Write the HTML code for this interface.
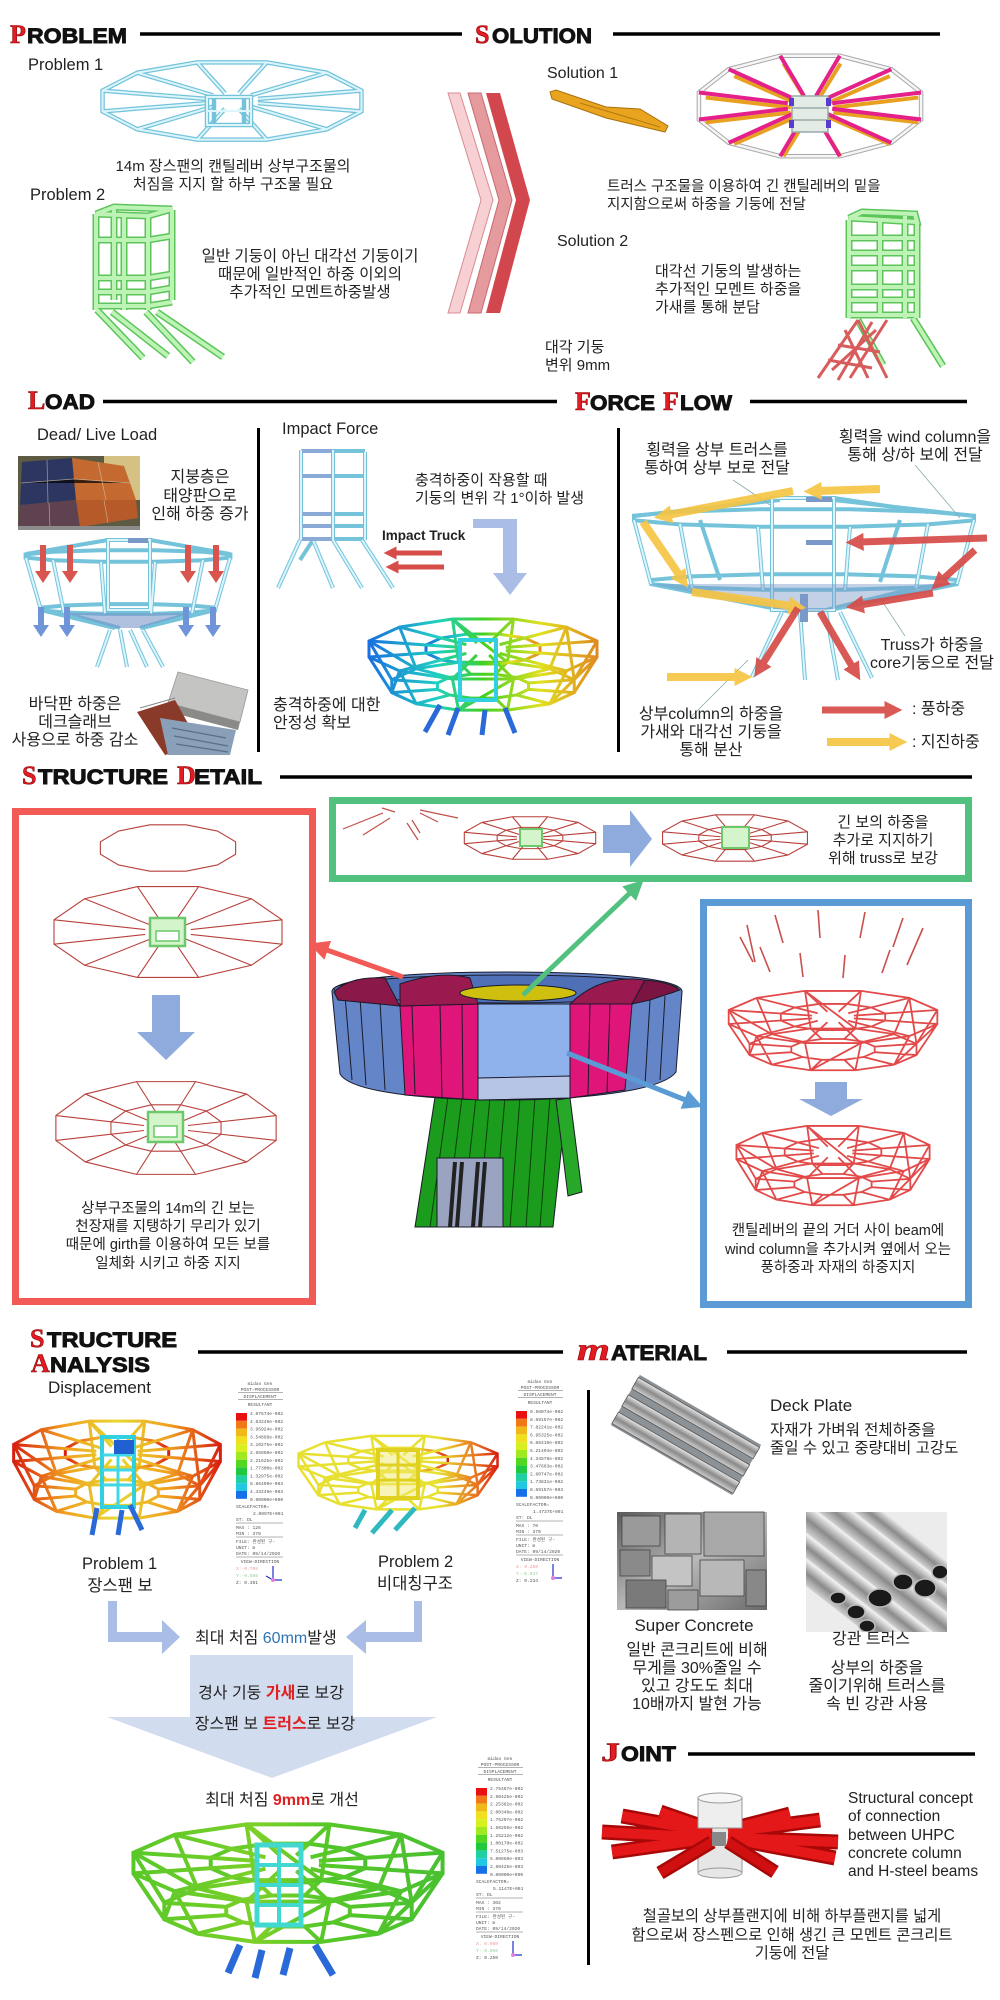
<!DOCTYPE html>
<html><head><meta charset="utf-8">
<style>
html,body{margin:0;padding:0;background:#fff;}
svg{display:block}
text{font-family:"Liberation Sans","Noto Sans CJK KR",sans-serif;fill:#222;}
.k{font-size:15px}
.e{font-size:16.5px}
.t1{font-family:"Liberation Serif",serif;font-weight:bold;font-size:26px;fill:#e31b23;stroke:#8a0000;stroke-width:.6}
.t2{font-family:"Liberation Sans",sans-serif;font-weight:bold;font-size:21px;fill:#111;stroke:#111;stroke-width:.9}
.hl{stroke:#000;stroke-width:3.5}
.cy{stroke:#74c3db;stroke-width:4.5;fill:none}
.cy2{stroke:#dbf5fb;stroke-width:2;fill:none}
.gr{stroke:#5cc45a;stroke-width:7;fill:none}
.gr2{stroke:#bdf4b6;stroke-width:4;fill:none}
.rw{stroke:#b8403c;stroke-width:1.1;fill:none}
.rb{stroke:#e24a4a;stroke-width:1.8;fill:none}
.lg{font-size:4.6px;fill:#555;font-family:"Liberation Mono",monospace}
.lgl{stroke:#666;stroke-width:.5}
</style></head><body>
<svg width="1000" height="2000" viewBox="0 0 1000 2000">
<defs>
<polygon id="r12" fill="none" vector-effect="non-scaling-stroke" points=".966,.259 .707,.707 .259,.966 -.259,.966 -.707,.707 -.966,.259 -.966,-.259 -.707,-.707 -.259,-.966 .259,-.966 .707,-.707 .966,-.259"/>
<polygon id="ri" fill="none" vector-effect="non-scaling-stroke" points=".483,.130 .354,.354 .130,.483 -.130,.483 -.354,.354 -.483,.130 -.483,-.130 -.354,-.354 -.130,-.483 .130,-.483 .354,-.354 .483,-.130"/>
<path id="sp12" fill="none" vector-effect="non-scaling-stroke" d="M.193 .052L.966 .259M.141 .141L.707 .707M.052 .193L.259 .966M-.052 .193L-.259 .966M-.141 .141L-.707 .707M-.193 .052L-.966 .259M-.193 -.052L-.966 -.259M-.141 -.141L-.707 -.707M-.052 -.193L-.259 -.966M.052 -.193L.259 -.966M.141 -.141L.707 -.707M.193 -.052L.966 -.259"/>
<path id="bw" fill="none" vector-effect="non-scaling-stroke" d="M.966 .259L.773 1.407M.707 .707L.566 1.766M.259 .966L.207 1.973M-.259 .966L-.207 1.973M-.707 .707L-.566 1.766M-.966 .259L-.773 1.407M-.966 -.259L-.773 .993M-.707 -.707L-.566 .634M-.259 -.966L-.207 .427M.259 -.966L.207 .427M.707 -.707L.566 .634M.966 -.259L.773 .993M.773 1.407L.566 1.766L.207 1.973L-.207 1.973L-.566 1.766L-.773 1.407L-.773 .993L-.566 .634L-.207 .427L.207 .427L.566 .634L.773 .993ZM.386 1.304L.283 1.483L.104 1.586L-.104 1.586L-.283 1.483L-.386 1.304L-.386 1.096L-.283 .917L-.104 .814L.104 .814L.283 .917L.386 1.096ZM.386 1.304L.773 1.407M.283 1.483L.566 1.766M.104 1.586L.207 1.973M-.104 1.586L-.207 1.973M-.283 1.483L-.566 1.766M-.386 1.304L-.773 1.407M-.386 1.096L-.773 .993M-.283 .917L-.566 .634M-.104 .814L-.207 .427M.104 .814L.207 .427M.283 .917L.566 .634M.386 1.096L.773 .993M.966 .259L.566 1.766M.259 .966L-.207 1.973M-.707 .707L-.773 1.407M-.966 -.259L-.566 .634M-.259 -.966L.207 .427M.707 -.707L.773 .993"/>
<marker id="mY" viewBox="0 0 10 10" refX="2" refY="5" markerUnits="userSpaceOnUse" markerWidth="18" markerHeight="18" orient="auto"><path d="M0,0L10,5L0,10z" fill="#f6c544"/></marker>
<marker id="mR" viewBox="0 0 10 10" refX="2" refY="5" markerUnits="userSpaceOnUse" markerWidth="18" markerHeight="18" orient="auto"><path d="M0,0L10,5L0,10z" fill="#d64c48"/></marker>
<marker id="mR2" viewBox="0 0 10 10" refX="2" refY="5" markerUnits="userSpaceOnUse" markerWidth="13" markerHeight="13" orient="auto"><path d="M0,0L10,5L0,10z" fill="#d64c48"/></marker>
<marker id="mRB" viewBox="0 0 10 10" refX="2" refY="5" markerUnits="userSpaceOnUse" markerWidth="20" markerHeight="20" orient="auto"><path d="M0,0L10,5L0,10z" fill="#f25a56"/></marker>
<marker id="mGB" viewBox="0 0 10 10" refX="2" refY="5" markerUnits="userSpaceOnUse" markerWidth="20" markerHeight="20" orient="auto"><path d="M0,0L10,5L0,10z" fill="#52c07e"/></marker>
<marker id="mBB" viewBox="0 0 10 10" refX="2" refY="5" markerUnits="userSpaceOnUse" markerWidth="20" markerHeight="20" orient="auto"><path d="M0,0L10,5L0,10z" fill="#5b9bd5"/></marker>
<linearGradient id="gImp" x1="0" x2="1" y1="0" y2="0"><stop offset="0" stop-color="#1a70e0"/><stop offset=".3" stop-color="#20d0c0"/><stop offset=".5" stop-color="#40d020"/><stop offset=".75" stop-color="#e0e020"/><stop offset="1" stop-color="#e08a20"/></linearGradient>
<linearGradient id="gA1" x1="0" x2="1" y1="0" y2="0"><stop offset="0" stop-color="#d8200f"/><stop offset=".25" stop-color="#f0a020"/><stop offset=".5" stop-color="#e8d830"/><stop offset=".75" stop-color="#f0a020"/><stop offset="1" stop-color="#d8200f"/></linearGradient>
<linearGradient id="gA2" x1="0" x2="1" y1="0" y2="0"><stop offset="0" stop-color="#e8e030"/><stop offset=".7" stop-color="#e8e030"/><stop offset=".9" stop-color="#e87020"/><stop offset="1" stop-color="#d82010"/></linearGradient>
<linearGradient id="gA3" x1="0" x2="1" y1="0" y2="0"><stop offset="0" stop-color="#58c828"/><stop offset=".4" stop-color="#7cd028"/><stop offset=".6" stop-color="#58c828"/><stop offset="1" stop-color="#48c030"/></linearGradient>
<linearGradient id="gMet" x1="0" x2="0" y1="0" y2="1"><stop offset="0" stop-color="#e8e8e8"/><stop offset=".5" stop-color="#8a8a8a"/><stop offset="1" stop-color="#d0d0d0"/></linearGradient>
<linearGradient id="gCon" x1="0" x2="1" y1="0" y2="1"><stop offset="0" stop-color="#5a5a5a"/><stop offset=".5" stop-color="#b8b8b8"/><stop offset="1" stop-color="#6a6a6a"/></linearGradient>
<clipPath id="cpP"><rect x="806" y="1512" width="141" height="120"/></clipPath>
</defs>

<!-- ============ PROBLEM / SOLUTION ============ -->
<text x="10" y="43" class="t1">P</text><text x="27" y="43" class="t2" textLength="100" lengthAdjust="spacingAndGlyphs">ROBLEM</text>
<line x1="140" y1="34" x2="462" y2="34" class="hl"/>
<text x="475" y="43" class="t1">S</text><text x="492" y="43" class="t2" textLength="100" lengthAdjust="spacingAndGlyphs">OLUTION</text>
<line x1="613" y1="34" x2="940" y2="34" class="hl"/>

<text x="28" y="70" style="font-size:16.5px">Problem 1</text>
<g transform="translate(232,101) scale(134,40)"><use href="#r12" class="cy"/><use href="#sp12" class="cy"/><use href="#r12" class="cy2"/><use href="#sp12" class="cy2"/></g>
<g class="cy"><rect x="207" y="97" width="44" height="28"/><line x1="214" y1="95" x2="214" y2="127"/><line x1="244" y1="95" x2="244" y2="127"/></g>
<g class="cy2"><rect x="207" y="97" width="44" height="28"/><line x1="207" y1="111" x2="251" y2="111"/></g>
<text x="233" y="171" class="k" text-anchor="middle">14m 장스팬의 캔틸레버 상부구조물의</text>
<text x="233" y="189" class="k" text-anchor="middle">처짐을 지지 할 하부 구조물 필요</text>

<text x="30" y="200" style="font-size:16.5px">Problem 2</text>
<g class="gr"><path d="M96,214V310M148,216V310M114,208V300M172,210V300M96,214L114,207L172,209L148,216ZM96,240H148L172,236M96,278H148L172,274M96,292H148L172,288M96,306H148L172,302M124,214V310M97,310L143,358M112,312L168,356M146,312L193,362M157,312L223,357"/></g>
<g class="gr2"><path d="M96,214V310M148,216V310M114,208V300M172,210V300M96,214L114,207L172,209L148,216ZM96,240H148L172,236M96,278H148L172,274M96,292H148L172,288M96,306H148L172,302M124,214V310M97,310L143,358M112,312L168,356M146,312L193,362M157,312L223,357"/></g>
<text x="310" y="261" text-anchor="middle" style="font-size:15.5px">일반 기둥이 아닌 대각선 기둥이기</text>
<text x="310" y="279" text-anchor="middle" style="font-size:15.5px">때문에 일반적인 하중 이외의</text>
<text x="310" y="297" text-anchor="middle" style="font-size:15.5px">추가적인 모멘트하중발생</text>

<!-- chevrons -->
<polygon points="448,93 460,93 493,200 460,313 448,313 481,200" fill="#f6d0d2" stroke="#d98c90" stroke-width="1"/>
<polygon points="468,93 481,93 512,200 481,313 468,313 499,200" fill="#e59a9e" stroke="#c86a70" stroke-width="1"/>
<polygon points="486,93 500,93 530,200 500,313 486,313 516,200" fill="#d2474d"/>

<text x="547" y="78" style="font-size:16px">Solution 1</text>
<polygon points="550,92 556,90 606,107 640,109 668,126 665,132 606,118 552,99" fill="#e8a41e" stroke="#a8700c" stroke-width="1"/>
<line x1="580" y1="103" x2="660" y2="127" stroke="#b67a10" stroke-width="1"/>
<g transform="translate(810,106) scale(115,52)"><use href="#r12" style="stroke:#a8a8a8;stroke-width:4.5"/><use href="#r12" style="stroke:#f6f6f6;stroke-width:2.5"/></g>
<g transform="translate(812,110) scale(110,48)"><use href="#sp12" style="stroke:#e8a020;stroke-width:4"/></g>
<g transform="translate(810,106) scale(115,52)"><use href="#sp12" style="stroke:#e4208a;stroke-width:4"/></g>
<rect x="792" y="96" width="36" height="36" fill="#e2ece4" stroke="#9aa" stroke-width="1.5"/>
<path d="M792,108H828M792,120H828" stroke="#9aa" stroke-width="1.5"/>
<g fill="#5a3bd0"><rect x="789" y="98" width="5" height="8"/><rect x="826" y="98" width="5" height="8"/><rect x="789" y="120" width="5" height="8"/><rect x="826" y="120" width="5" height="8"/></g>
<text x="607" y="191" style="font-size:14.5px">트러스 구조물을 이용하여 긴 캔틸레버의 밑을</text>
<text x="607" y="209" style="font-size:14.5px">지지함으로써 하중을 기둥에 전달</text>

<text x="557" y="246" style="font-size:16px">Solution 2</text>
<text x="655" y="276" class="k">대각선 기둥의 발생하는</text>
<text x="655" y="294" class="k">추가적인 모멘트 하중을</text>
<text x="655" y="312" class="k">가새를  통해 분담</text>
<text x="545" y="352" class="k">대각 기둥</text>
<text x="545" y="370" class="k">변위 9mm</text>
<g class="gr"><path d="M849,220V318M880,218V316M905,216V318M917,222V318M849,218L862,212L915,214L917,222ZM862,212L917,222M849,238H915M849,253H915M849,268H915M849,287H915M849,300H915M849,315H915M858,320L883,365M913,318L943,366"/></g>
<g class="gr2"><path d="M849,220V318M880,218V316M905,216V318M917,222V318M849,218L862,212L915,214L917,222ZM849,238H915M849,253H915M849,268H915M849,287H915M849,300H915M849,315H915M858,320L883,365M913,318L943,366"/></g>
<g stroke="#d85c5c" stroke-width="3" fill="none"><path d="M858,320L818,378M872,322L838,380M887,320L850,378M858,320L887,378M838,345L880,352M828,360L872,368M845,330L868,378M876,330L832,370"/></g>

<!-- ============ LOAD / FORCE FLOW ============ -->
<text x="28" y="409" class="t1">L</text><text x="45" y="409" class="t2" textLength="50" lengthAdjust="spacingAndGlyphs">OAD</text>
<line x1="103" y1="401.5" x2="557" y2="401.5" class="hl"/>
<text x="575" y="410" class="t1">F</text><text x="590" y="410" class="t2" textLength="65" lengthAdjust="spacingAndGlyphs">ORCE</text>
<text x="663" y="410" class="t1">F</text><text x="680" y="410" class="t2" textLength="52" lengthAdjust="spacingAndGlyphs">LOW</text>
<line x1="750" y1="401.5" x2="967" y2="401.5" class="hl"/>

<text x="37" y="440" class="e">Dead/ Live Load</text>
<!-- solar photo -->
<rect x="18" y="456" width="122" height="74" fill="#5d5a44"/>
<rect x="104" y="456" width="36" height="44" fill="#d6c185"/>
<polygon points="22,462 72,458 76,500 20,505" fill="#2c3660"/>
<polygon points="72,458 124,466 136,500 76,500" fill="#c46a30"/>
<polygon points="20,505 76,500 80,527 18,528" fill="#5e4250"/>
<polygon points="76,500 136,500 138,518 80,527" fill="#b55a28"/>
<path d="M47,460L48,503M98,462L106,500M104,500L108,523M49,503L50,528M21,483L74,479L130,483" stroke="#d8c8b0" stroke-width=".7" opacity=".7"/>
<rect x="18" y="526" width="122" height="4" fill="#8c8c8c"/>
<text x="200" y="482" text-anchor="middle" style="font-size:16px">지붕층은</text>
<text x="200" y="501" text-anchor="middle" style="font-size:16px">태양판으로</text>
<text x="200" y="519" text-anchor="middle" style="font-size:16px">인해 하중 증가</text>
<!-- dead load structure -->
<g class="cy" style="stroke-width:4">
<g transform="translate(128,556) scale(106,6)"><use href="#r12"/></g>
<g transform="translate(128,609) scale(90,5)"><use href="#r12"/></g>
<path d="M230,558L215,610M203,560L192,613M155,562L151,614M101,562L105,614M53,560L64,613M26,558L41,610M26,554L108,540M230,554L150,540M41,610L115,628M64,613L120,628M192,613L140,628M215,610L142,628M110,630L97,667M120,630L127,667M130,630L147,667M143,630L163,667"/>
<rect x="108" y="540" width="42" height="70"/>
</g>
<g class="cy2"><path d="M230,558L215,610M203,560L192,613M155,562L151,614M101,562L105,614M53,560L64,613M26,558L41,610M110,630L97,667M120,630L127,667M130,630L147,667M143,630L163,667"/><rect x="108" y="540" width="42" height="70"/></g>
<rect x="128" y="538" width="20" height="5" fill="#7a98c8"/>
<polygon points="64,613 192,613 140,628 115,628" fill="#7a98c8" opacity=".6"/>
<g fill="#d9534f"><rect x="40" y="545" width="6" height="26"/><polygon points="35,571 51,571 43,583"/><rect x="67" y="545" width="6" height="26"/><polygon points="62,571 78,571 70,583"/><rect x="185" y="545" width="6" height="26"/><polygon points="180,571 196,571 188,583"/><rect x="213" y="545" width="6" height="26"/><polygon points="208,571 224,571 216,583"/></g>
<g fill="#7094d8"><rect x="38" y="607" width="6" height="18"/><polygon points="33,625 49,625 41,637"/><rect x="64" y="607" width="6" height="18"/><polygon points="59,625 75,625 67,637"/><rect x="183" y="607" width="6" height="18"/><polygon points="178,625 194,625 186,637"/><rect x="210" y="607" width="6" height="18"/><polygon points="205,625 221,625 213,637"/></g>
<!-- deck slab photo -->
<polygon points="178,672 248,690 240,722 168,703" fill="#c4c4c2" stroke="#999" stroke-width=".8"/>
<polygon points="168,703 240,722 238,730 166,711" fill="#8a8a88"/>
<polygon points="137,712 175,700 200,745 165,755" fill="#8a3a28"/>
<polygon points="160,718 236,730 230,755 168,755" fill="#8aa0b8"/>
<path d="M172,728L226,738M174,736L228,746M176,744L228,752" stroke="#5a6e86" stroke-width="1.2"/>
<path d="M140,708L175,698" stroke="#888" stroke-width="1"/>
<text x="75" y="709" text-anchor="middle" style="font-size:16px">바닥판 하중은</text>
<text x="75" y="727" text-anchor="middle" style="font-size:16px">데크슬래브</text>
<text x="75" y="745" text-anchor="middle" style="font-size:16px">사용으로 하중 감소</text>

<line x1="258.5" y1="428" x2="258.5" y2="752" stroke="#000" stroke-width="3"/>
<text x="282" y="434" class="e">Impact Force</text>
<!-- impact tower -->
<g class="cy" style="stroke-width:4"><path d="M301,450V540M333,450V540M365,452V540M301,451H365M301,476H365M301,514H365M301,526H365M301,539H365M300,540L278,588M313,540L333,588M333,540L362,588M362,540L393,588M300,560L313,540"/></g>
<g class="cy2"><path d="M301,450V540M333,450V540M365,452V540M300,540L278,588M313,540L333,588M333,540L362,588M362,540L393,588"/></g>
<g fill="#8aaad8"><rect x="302" y="449" width="30" height="4"/><rect x="302" y="474" width="30" height="4"/><rect x="302" y="512" width="30" height="4"/><rect x="302" y="524" width="30" height="4"/><rect x="302" y="537" width="30" height="4"/></g>
<text x="382" y="540" style="font-size:13.5px;font-weight:bold">Impact Truck</text>
<line x1="442" y1="553" x2="394" y2="553" stroke="#d64c48" stroke-width="5" marker-end="url(#mR2)"/>
<line x1="444" y1="567" x2="396" y2="567" stroke="#d64c48" stroke-width="5" marker-end="url(#mR2)"/>
<text x="415" y="485" class="k">충격하중이 작용할 때</text>
<text x="415" y="503" class="k">기둥의 변위 각 1°이하 발생</text>
<polygon points="473,519 517,519 517,573 527,573 510,595 493,573 503,573 503,528 473,528" fill="#a9bde6"/>
<!-- impact analysis -->
<g transform="translate(483,649) scale(118,31)" stroke="url(#gImp)" style="stroke-width:3"><use href="#r12"/><use href="#bw"/><use href="#ri"/><use href="#sp12"/></g>
<rect x="460" y="640" width="36" height="60" fill="none" stroke="#30d0e0" stroke-width="4"/>
<g stroke="#2a6ad8" stroke-width="5"><path d="M440,705L425,732M458,708L448,735M485,710L482,735M505,708L515,733"/></g>
<text x="273" y="710" style="font-size:16px">충격하중에 대한</text>
<text x="273" y="728" style="font-size:16px">안정성 확보</text>

<line x1="618.5" y1="428" x2="618.5" y2="752" stroke="#000" stroke-width="3"/>
<text x="717" y="455" text-anchor="middle" style="font-size:16px">횡력을 상부 트러스를</text>
<text x="717" y="473" text-anchor="middle" style="font-size:16px">통하여 상부 보로 전달</text>
<text x="915" y="442" text-anchor="middle" style="font-size:16px">횡력을 wind column을</text>
<text x="915" y="460" text-anchor="middle" style="font-size:16px">통해 상/하 보에 전달</text>
<!-- force flow structure -->
<g class="cy" style="stroke-width:4">
<g transform="translate(804,518) scale(176,9)"><use href="#r12"/></g>
<g transform="translate(804,582) scale(158,8)"><use href="#r12"/></g>
<path d="M974,520L957,584M928,524L916,588M850,527L845,590M758,527L763,590M680,524L692,588M634,520L651,584M634,516L780,500M680,512L780,498M928,512L834,498M974,516L834,500M651,584L792,612M692,588L796,612M916,588L818,612M957,584L820,612M782,612L752,677M800,612L805,680M826,612L838,680M840,612L872,678M700,520L720,580M900,520L880,582"/>
<rect x="772" y="498" width="62" height="112"/>
</g>
<g class="cy2"><path d="M974,520L957,584M928,524L916,588M850,527L845,590M758,527L763,590M680,524L692,588M634,520L651,584M782,612L752,677M800,612L805,680M826,612L838,680M840,612L872,678"/><rect x="772" y="498" width="62" height="112"/></g>
<g fill="#7a98c8"><rect x="806" y="497" width="26" height="5"/><rect x="806" y="540" width="26" height="5"/><rect x="800" y="594" width="8" height="28"/></g>
<polygon points="651,584 957,584 818,612 792,612" fill="#7a98c8" opacity=".45"/>
<g stroke="#8aa" stroke-width=".8"><path d="M733,480L770,505M915,465L960,518M905,636L880,598M690,718L748,660"/></g>
<g stroke="#f6c544" stroke-width="8" opacity=".92" fill="none">
<line x1="880" y1="489" x2="818" y2="491" marker-end="url(#mY)"/>
<line x1="793" y1="491" x2="668" y2="515" marker-end="url(#mY)"/>
<line x1="643" y1="522" x2="680" y2="576" marker-end="url(#mY)"/>
<line x1="692" y1="592" x2="792" y2="606" marker-end="url(#mY)"/>
<line x1="667" y1="677" x2="738" y2="677" marker-end="url(#mY)"/>
<line x1="827" y1="742" x2="893" y2="742" marker-end="url(#mY)"/>
</g>
<g stroke="#d64c48" stroke-width="7" opacity=".92" fill="none">
<line x1="987" y1="538" x2="860" y2="542" marker-end="url(#mR)"/>
<line x1="975" y1="550" x2="942" y2="580" marker-end="url(#mR)"/>
<line x1="933" y1="593" x2="860" y2="605" marker-end="url(#mR)"/>
<line x1="798" y1="608" x2="762" y2="665" marker-end="url(#mR)"/>
<line x1="820" y1="612" x2="853" y2="668" marker-end="url(#mR)"/>
<line x1="822" y1="710" x2="888" y2="710" marker-end="url(#mR)"/>
</g>
<text x="932" y="650" text-anchor="middle" style="font-size:16px">Truss가 하중을</text>
<text x="932" y="668" text-anchor="middle" style="font-size:16px">core기둥으로 전달</text>
<text x="711" y="719" text-anchor="middle" style="font-size:16px">상부column의 하중을</text>
<text x="711" y="737" text-anchor="middle" style="font-size:16px">가새와 대각선 기둥을</text>
<text x="711" y="755" text-anchor="middle" style="font-size:16px">통해 분산</text>
<text x="912" y="714" style="font-size:16px">: 풍하중</text>
<text x="912" y="747" style="font-size:16px">: 지진하중</text>

<!-- ============ STRUCTURE DETAIL ============ -->
<text x="22" y="784" class="t1">S</text><text x="38" y="784" class="t2" textLength="130" lengthAdjust="spacingAndGlyphs">TRUCTURE</text>
<text x="177" y="784" class="t1">D</text><text x="194" y="784" class="t2" textLength="68" lengthAdjust="spacingAndGlyphs">ETAIL</text>
<line x1="280" y1="777" x2="972" y2="777" class="hl"/>

<rect x="15.5" y="811.5" width="297" height="490" fill="none" stroke="#f25a56" stroke-width="7"/>
<rect x="332.5" y="800.5" width="636" height="78" fill="none" stroke="#52c07e" stroke-width="7"/>
<rect x="703.5" y="902.5" width="265" height="402" fill="none" stroke="#5b9bd5" stroke-width="7"/>

<!-- red box -->
<g class="rw" transform="translate(168,848) scale(70,24)"><use href="#r12"/></g>
<g class="rw" transform="translate(168,932) scale(118,47)"><use href="#r12"/><use href="#sp12"/></g>
<rect x="150" y="918" width="35" height="28" fill="#d4f4cc" stroke="#6cc86a" stroke-width="2.5"/>
<rect x="156" y="931" width="23" height="10" fill="#fff" stroke="#6cc86a" stroke-width="1.5"/>
<polygon points="152,995 180,995 180,1032 195,1032 166,1060 137,1032 152,1032" fill="#8faadc"/>
<g class="rw" transform="translate(166,1128) scale(114,48)"><use href="#r12"/><use href="#sp12"/><use href="#ri"/></g>
<rect x="148" y="1112" width="35" height="30" fill="#d4f4cc" stroke="#6cc86a" stroke-width="2.5"/>
<rect x="154" y="1126" width="23" height="11" fill="#fff" stroke="#6cc86a" stroke-width="1.5"/>
<text x="168" y="1213" text-anchor="middle" style="font-size:14.5px">상부구조물의 14m의 긴 보는</text>
<text x="168" y="1231" text-anchor="middle" style="font-size:14.5px">천장재를 지탱하기 무리가 있기</text>
<text x="168" y="1249" text-anchor="middle" style="font-size:14.5px">때문에 girth를 이용하여 모든 보를</text>
<text x="168" y="1268" text-anchor="middle" style="font-size:14.5px">일체화 시키고 하중 지지</text>

<!-- green box -->
<path d="M343,829L383,813M363,835L390,818M382,808L395,812M407,823L418,840M412,820L420,833M420,810L458,818M420,813L438,822" stroke="#c0504c" stroke-width="1.2" fill="none"/>
<g class="rw" transform="translate(530,838) scale(68,22)"><use href="#r12"/><use href="#sp12"/><use href="#ri"/></g>
<rect x="520" y="829" width="22" height="17" fill="#d4f4cc" stroke="#6cc86a" stroke-width="2"/>
<polygon points="603,825 630,825 630,810 652,839 630,867 630,853 603,853" fill="#8faadc"/>
<g class="rw" transform="translate(735,838) scale(75,24)"><use href="#r12"/><use href="#sp12"/><use href="#ri"/></g>
<rect x="722" y="827" width="27" height="21" fill="#d4f4cc" stroke="#6cc86a" stroke-width="2"/>
<text x="883" y="827" text-anchor="middle" class="k">긴 보의 하중을</text>
<text x="883" y="845" text-anchor="middle" class="k">추가로 지지하기</text>
<text x="883" y="863" text-anchor="middle" class="k">위해    truss로 보강</text>

<!-- blue box -->
<path d="M747,925L755,962M740,937L753,962M760,947L770,972M775,915L783,943M800,953L803,977M818,910L820,938M845,955L843,978M865,912L860,938M890,950L882,973M903,918L893,947M923,928L907,965" stroke="#c8504c" stroke-width="1.6" fill="none"/>
<g class="rb" transform="translate(833,1017) scale(108,27)"><use href="#r12"/><use href="#ri"/><use href="#sp12"/><use href="#bw"/></g>
<polygon points="815,1082 847,1082 847,1099 863,1099 831,1116 799,1099 815,1099" fill="#8faadc"/>
<g class="rb" transform="translate(833,1152) scale(100,27)"><use href="#r12"/><use href="#ri"/><use href="#sp12"/><use href="#bw"/></g>
<text x="838" y="1235" text-anchor="middle" style="font-size:14.5px">캔틸레버의 끝의 거더 사이 beam에</text>
<text x="838" y="1254" text-anchor="middle" style="font-size:14.5px">wind column을 추가시켜  옆에서 오는</text>
<text x="838" y="1272" text-anchor="middle" style="font-size:14.5px">풍하중과 자재의 하중지지</text>

<!-- central building -->
<g stroke="#1a1a2a" stroke-width="1">
<polygon points="435,1097 567,1097 553,1227 415,1227" fill="#1c9c1c"/>
<path d="M448,1097L430,1227M462,1097L446,1227M476,1097L462,1227M490,1097L478,1227M505,1097L494,1227M520,1097L510,1227M535,1097L526,1227M550,1097L540,1227" stroke="#0a400a"/>
<polygon points="556,1100 570,1098 582,1192 568,1196" fill="#28a828"/>
<rect x="437" y="1158" width="66" height="69" fill="#9aa4c0"/>
<path d="M455,1162L450,1227M462,1162L457,1227M478,1162L473,1227M485,1162L480,1227" stroke="#222" stroke-width="4"/>
<path d="M332,992C330,978 420,972 506,972C600,972 684,978 682,992L676,1072C660,1094 560,1100 506,1100C440,1100 352,1094 340,1074Z" fill="#6486c8"/>
<ellipse cx="506" cy="989" rx="172" ry="14" fill="#4f70b6"/>
<path d="M400,1006L478,1004L478,1100L405,1095Z" fill="#e0157a"/>
<path d="M570,1004L632,1004L625,1090L570,1098Z" fill="#e0157a"/>
<path d="M478,1004L570,1004L570,1098L478,1100Z" fill="#8fb2ec"/>
<path d="M478,1078L570,1076L570,1098L478,1100Z" fill="#b6c4e6"/>
<path d="M412,1006L415,1094M440,1005L442,1097M462,1005L463,1099M590,1004L588,1095M610,1004L607,1093M345,995L352,1080M360,998L366,1085M380,1002L385,1090M650,1000L645,1085M665,996L660,1080" fill="none"/>
<path d="M334,992Q350,976 385,978L400,1006L338,1000Z" fill="#8a1848"/>
<path d="M400,984Q440,970 470,978L478,1004L400,1006Z" fill="#9a1a50"/>
<path d="M570,1004Q600,974 645,980L632,1004Z" fill="#9a1a50"/>
<path d="M645,980Q670,982 680,990L650,1000L632,1004Z" fill="#7a1440"/>
<ellipse cx="518" cy="993" rx="58" ry="8" fill="#cfc010"/>
</g>
<line x1="403" y1="977" x2="324" y2="949" stroke="#f25a56" stroke-width="5" marker-end="url(#mRB)"/>
<line x1="523" y1="995" x2="632" y2="891" stroke="#52c07e" stroke-width="5" marker-end="url(#mGB)"/>
<line x1="567" y1="1053" x2="688" y2="1101" stroke="#5b9bd5" stroke-width="5" marker-end="url(#mBB)"/>

<!-- ============ STRUCTURE ANALYSIS ============ -->
<text x="30" y="1347" class="t1">S</text><text x="47" y="1347" class="t2" textLength="130" lengthAdjust="spacingAndGlyphs">TRUCTURE</text>
<text x="31" y="1372" class="t1">A</text><text x="50" y="1372" class="t2" textLength="100" lengthAdjust="spacingAndGlyphs">NALYSIS</text>
<line x1="198" y1="1352" x2="563" y2="1352" class="hl"/>
<text x="48" y="1393" style="font-size:17px">Displacement</text>

<g transform="translate(117,1453) scale(107,33)" stroke="url(#gA1)" style="stroke-width:3"><use href="#r12"/><use href="#bw"/><use href="#ri"/><use href="#sp12"/></g>
<rect x="102" y="1437" width="32" height="70" fill="none" stroke="#30d0e0" stroke-width="4"/>
<path d="M102,1455H134M102,1470H134M102,1485H134M118,1437V1507" stroke="#40d8e8" stroke-width="3"/>
<rect x="114" y="1440" width="20" height="14" fill="#2060d0"/>
<g stroke="#2a6ad8" stroke-width="5"><path d="M97,1508L92,1535M122,1510L118,1535M130,1505L142,1530"/></g>

<g transform="translate(398,1460) scale(103,25)" stroke="url(#gA2)" style="stroke-width:2.5"><use href="#r12"/><use href="#bw"/><use href="#ri"/><use href="#sp12"/></g>
<rect x="378" y="1450" width="40" height="48" fill="#f2ea70" fill-opacity=".5" stroke="#e0d020" stroke-width="4"/>
<path d="M378,1465H418M378,1480H418M398,1450V1498" stroke="#e0d020" stroke-width="3"/>
<g stroke="#30b8c0" stroke-width="5"><path d="M365,1510L355,1528M392,1510L372,1533M415,1508L395,1530"/></g>

<text x="82" y="1569" style="font-size:16.5px">Problem 1</text>
<text x="120" y="1591" text-anchor="middle" style="font-size:16.5px">장스팬 보</text>
<text x="378" y="1567" style="font-size:16.5px">Problem 2</text>
<text x="415" y="1589" text-anchor="middle" style="font-size:16.5px">비대칭구조</text>

<polygon points="108,1601 117,1601 117,1632 162,1632 162,1620 180,1637 162,1654 162,1642 108,1642" fill="#a9bde6"/>
<polygon points="414,1601 422,1601 422,1642 366,1642 366,1654 346,1637 366,1620 366,1632 414,1632" fill="#a9bde6"/>
<text x="195" y="1643" style="font-size:16px">최대 처짐 <tspan fill="#2e75b6">60mm</tspan>발생</text>

<polygon points="190,1655 353,1655 353,1717 437,1717 272,1778 107,1717 190,1717" fill="#d2dcef"/>
<text x="271" y="1698" text-anchor="middle" style="font-size:16px">경사 기둥 <tspan fill="#e02020" font-weight="bold">가새</tspan>로 보강</text>
<text x="275" y="1729" text-anchor="middle" style="font-size:16px">장스팬 보 <tspan fill="#e02020" font-weight="bold">트러스</tspan>로 보강</text>
<text x="282" y="1805" text-anchor="middle" style="font-size:16px">최대 처짐 <tspan fill="#e02020" font-weight="bold">9mm</tspan>로 개선</text>

<g transform="translate(288,1863) scale(160,40)" stroke="url(#gA3)" style="stroke-width:4"><use href="#r12"/><use href="#bw"/><use href="#ri"/><use href="#sp12"/></g>
<rect x="257" y="1845" width="44" height="80" fill="none" stroke="#40d8d0" stroke-width="5"/>
<path d="M257,1865H301M257,1885H301M257,1905H301M279,1845V1925" stroke="#40d8d0" stroke-width="4"/>
<g stroke="#2a6ad8" stroke-width="7"><path d="M240,1945L228,1973M262,1950L255,1978M290,1948L283,1975M315,1945L333,1975"/></g>

<!-- legends -->
<g transform="translate(235,1380)">
<text x="25" y="5" text-anchor="middle" class="lg">midas Gen</text><text x="25" y="11" text-anchor="middle" class="lg">POST-PROCESSOR</text><line x1="3" y1="12.5" x2="48" y2="12.5" class="lgl"/>
<text x="25" y="18" text-anchor="middle" class="lg">DISPLACEMENT</text><line x1="3" y1="19.5" x2="48" y2="19.5" class="lgl"/><text x="25" y="26" text-anchor="middle" class="lg">RESULTANT</text>
<rect x="1" y="33" width="11" height="7.8" fill="#e81010"/><rect x="1" y="40.8" width="11" height="7.8" fill="#f07818"/><rect x="1" y="48.6" width="11" height="7.8" fill="#f0b818"/><rect x="1" y="56.4" width="11" height="7.8" fill="#f0e020"/><rect x="1" y="64.2" width="11" height="7.8" fill="#d8f020"/><rect x="1" y="72" width="11" height="7.8" fill="#a0e820"/><rect x="1" y="79.8" width="11" height="7.8" fill="#50d820"/><rect x="1" y="87.6" width="11" height="7.8" fill="#20c840"/><rect x="1" y="95.4" width="11" height="7.8" fill="#20d0a0"/><rect x="1" y="103.2" width="11" height="7.8" fill="#20c8e0"/><rect x="1" y="111" width="11" height="7.8" fill="#1870e8"/>
<text x="15" y="35" class="lg">4.07574e-002</text><text x="15" y="42.8" class="lg">4.63249e-002</text><text x="15" y="50.6" class="lg">3.95924e-002</text><text x="15" y="58.4" class="lg">3.54899e-002</text><text x="15" y="66.2" class="lg">3.10275e-002</text><text x="15" y="74" class="lg">2.65950e-002</text><text x="15" y="81.8" class="lg">2.21625e-002</text><text x="15" y="89.6" class="lg">1.77300e-002</text><text x="15" y="97.4" class="lg">1.32975e-002</text><text x="15" y="105.2" class="lg">8.86499e-003</text><text x="15" y="113" class="lg">4.43249e-003</text><text x="15" y="120.8" class="lg">0.00000e+000</text>
<text x="1" y="128" class="lg">SCALEFACTOR=</text><text x="18" y="135" class="lg">2.0097E+001</text><text x="1" y="141" class="lg">ST: DL</text><line x1="1" y1="143" x2="48" y2="143" class="lgl"/>
<text x="1" y="149" class="lg">MAX : 126</text><text x="1" y="155" class="lg">MIN : 370</text><line x1="1" y1="157" x2="48" y2="157" class="lgl"/>
<text x="1" y="163" class="lg">FILE: 완성된 구-</text><text x="1" y="169" class="lg">UNIT: m</text><text x="1" y="175" class="lg">DATE: 09/14/2020</text><line x1="1" y1="177" x2="48" y2="177" class="lgl"/>
<text x="25" y="183" text-anchor="middle" class="lg">VIEW-DIRECTION</text><text x="1" y="190" class="lg" style="fill:#e99">X:-0.708</text><text x="1" y="197" class="lg" style="fill:#9c9">Y:-0.598</text><text x="1" y="204" class="lg">Z: 0.391</text>
<path d="M38,200V186M38,200H47M38,200L31,196" stroke="#2233cc" stroke-width="1.2"/><circle cx="38" cy="200" r="2" fill="#e080e0"/>
</g>
<g transform="translate(515,1378)">
<text x="25" y="5" text-anchor="middle" class="lg">midas Gen</text><text x="25" y="11" text-anchor="middle" class="lg">POST-PROCESSOR</text><line x1="3" y1="12.5" x2="48" y2="12.5" class="lgl"/>
<text x="25" y="18" text-anchor="middle" class="lg">DISPLACEMENT</text><line x1="3" y1="19.5" x2="48" y2="19.5" class="lgl"/><text x="25" y="26" text-anchor="middle" class="lg">RESULTANT</text>
<rect x="1" y="33" width="11" height="7.8" fill="#e81010"/><rect x="1" y="40.8" width="11" height="7.8" fill="#f07818"/><rect x="1" y="48.6" width="11" height="7.8" fill="#f0b818"/><rect x="1" y="56.4" width="11" height="7.8" fill="#f0e020"/><rect x="1" y="64.2" width="11" height="7.8" fill="#d8f020"/><rect x="1" y="72" width="11" height="7.8" fill="#a0e820"/><rect x="1" y="79.8" width="11" height="7.8" fill="#50d820"/><rect x="1" y="87.6" width="11" height="7.8" fill="#20c840"/><rect x="1" y="95.4" width="11" height="7.8" fill="#20d0a0"/><rect x="1" y="103.2" width="11" height="7.8" fill="#20c8e0"/><rect x="1" y="111" width="11" height="7.8" fill="#1870e8"/>
<text x="15" y="35" class="lg">9.56074e-002</text><text x="15" y="42.8" class="lg">8.69157e-002</text><text x="15" y="50.6" class="lg">7.82241e-002</text><text x="15" y="58.4" class="lg">6.95325e-002</text><text x="15" y="66.2" class="lg">6.08410e-002</text><text x="15" y="74" class="lg">5.21494e-002</text><text x="15" y="81.8" class="lg">4.34578e-002</text><text x="15" y="89.6" class="lg">3.47663e-002</text><text x="15" y="97.4" class="lg">2.60747e-002</text><text x="15" y="105.2" class="lg">1.73831e-002</text><text x="15" y="113" class="lg">8.69157e-003</text><text x="15" y="120.8" class="lg">0.00000e+000</text>
<text x="1" y="128" class="lg">SCALEFACTOR=</text><text x="18" y="135" class="lg">1.4737E+001</text><text x="1" y="141" class="lg">ST: DL</text><line x1="1" y1="143" x2="48" y2="143" class="lgl"/>
<text x="1" y="149" class="lg">MAX : 70</text><text x="1" y="155" class="lg">MIN : 370</text><line x1="1" y1="157" x2="48" y2="157" class="lgl"/>
<text x="1" y="163" class="lg">FILE: 완성된 구-</text><text x="1" y="169" class="lg">UNIT: m</text><text x="1" y="175" class="lg">DATE: 09/14/2020</text><line x1="1" y1="177" x2="48" y2="177" class="lgl"/>
<text x="25" y="183" text-anchor="middle" class="lg">VIEW-DIRECTION</text><text x="1" y="190" class="lg" style="fill:#e99">X: 0.260</text><text x="1" y="197" class="lg" style="fill:#9c9">Y:-0.937</text><text x="1" y="204" class="lg">Z: 0.234</text>
<path d="M38,200V186M38,200H47" stroke="#2233cc" stroke-width="1.2"/><circle cx="38" cy="200" r="2" fill="#e080e0"/>
</g>
<g transform="translate(475,1755)">
<text x="25" y="5" text-anchor="middle" class="lg">midas Gen</text><text x="25" y="11" text-anchor="middle" class="lg">POST-PROCESSOR</text><line x1="3" y1="12.5" x2="48" y2="12.5" class="lgl"/>
<text x="25" y="18" text-anchor="middle" class="lg">DISPLACEMENT</text><line x1="3" y1="19.5" x2="48" y2="19.5" class="lgl"/><text x="25" y="26" text-anchor="middle" class="lg">RESULTANT</text>
<rect x="1" y="33" width="11" height="7.8" fill="#e81010"/><rect x="1" y="40.8" width="11" height="7.8" fill="#f07818"/><rect x="1" y="48.6" width="11" height="7.8" fill="#f0b818"/><rect x="1" y="56.4" width="11" height="7.8" fill="#f0e020"/><rect x="1" y="64.2" width="11" height="7.8" fill="#d8f020"/><rect x="1" y="72" width="11" height="7.8" fill="#a0e820"/><rect x="1" y="79.8" width="11" height="7.8" fill="#50d820"/><rect x="1" y="87.6" width="11" height="7.8" fill="#20c840"/><rect x="1" y="95.4" width="11" height="7.8" fill="#20d0a0"/><rect x="1" y="103.2" width="11" height="7.8" fill="#20c8e0"/><rect x="1" y="111" width="11" height="7.8" fill="#1870e8"/>
<text x="15" y="35" class="lg">2.75467e-002</text><text x="15" y="42.8" class="lg">2.50425e-002</text><text x="15" y="50.6" class="lg">2.25382e-002</text><text x="15" y="58.4" class="lg">2.00340e-002</text><text x="15" y="66.2" class="lg">1.75297e-002</text><text x="15" y="74" class="lg">1.50255e-002</text><text x="15" y="81.8" class="lg">1.25212e-002</text><text x="15" y="89.6" class="lg">1.00170e-002</text><text x="15" y="97.4" class="lg">7.51275e-003</text><text x="15" y="105.2" class="lg">5.00850e-003</text><text x="15" y="113" class="lg">2.50425e-003</text><text x="15" y="120.8" class="lg">0.00000e+000</text>
<text x="1" y="128" class="lg">SCALEFACTOR=</text><text x="18" y="135" class="lg">5.1147E+001</text><text x="1" y="141" class="lg">ST: DL</text><line x1="1" y1="143" x2="48" y2="143" class="lgl"/>
<text x="1" y="149" class="lg">MAX : 302</text><text x="1" y="155" class="lg">MIN : 370</text><line x1="1" y1="157" x2="48" y2="157" class="lgl"/>
<text x="1" y="163" class="lg">FILE: 완성된 구-</text><text x="1" y="169" class="lg">UNIT: m</text><text x="1" y="175" class="lg">DATE: 09/14/2020</text><line x1="1" y1="177" x2="48" y2="177" class="lgl"/>
<text x="25" y="183" text-anchor="middle" class="lg">VIEW-DIRECTION</text><text x="1" y="190" class="lg" style="fill:#e99">X: 0.060</text><text x="1" y="197" class="lg" style="fill:#9c9">Y:-0.966</text><text x="1" y="204" class="lg">Z: 0.250</text>
<path d="M38,200V186M38,200H47" stroke="#2233cc" stroke-width="1.2"/><circle cx="38" cy="200" r="2" fill="#e080e0"/>
</g>

<!-- ============ MATERIAL ============ -->
<text x="577" y="1360" textLength="33" lengthAdjust="spacingAndGlyphs" style="font-family:'Liberation Serif',serif;font-style:italic;font-weight:bold;font-size:32px;fill:#e31b23;stroke:#8a0000;stroke-width:.5">m</text>
<text x="611" y="1360" class="t2" textLength="96" lengthAdjust="spacingAndGlyphs">ATERIAL</text>
<line x1="727" y1="1352" x2="967" y2="1352" class="hl"/>
<line x1="588.5" y1="1390" x2="588.5" y2="1965" stroke="#000" stroke-width="3"/>

<!-- deck plate -->
<g transform="translate(686,1435) rotate(30)">
<rect x="-70" y="-29" width="140" height="58" fill="#8d9297"/>
<rect x="-70" y="-26" width="140" height="13" fill="url(#gMet)" stroke="#555" stroke-width=".8"/>
<rect x="-70" y="-6" width="140" height="13" fill="url(#gMet)" stroke="#555" stroke-width=".8"/>
<rect x="-70" y="14" width="140" height="13" fill="url(#gMet)" stroke="#555" stroke-width=".8"/>
</g>
<text x="770" y="1411" style="font-size:17px">Deck Plate</text>
<text x="770" y="1435" style="font-size:15.5px">자재가 가벼워 전체하중을</text>
<text x="770" y="1453" style="font-size:15.5px">줄일 수 있고 중량대비 고강도</text>

<!-- super concrete -->
<rect x="617" y="1512" width="150" height="98" fill="url(#gCon)"/>
<g stroke="#444" stroke-width=".8">
<rect x="622" y="1516" width="38" height="30" fill="#9a9a9a"/><rect x="665" y="1514" width="36" height="40" fill="#b4b4b4"/><rect x="704" y="1512" width="60" height="44" fill="#a8a8a8"/>
<rect x="620" y="1550" width="30" height="26" fill="#8a8a8a"/><rect x="652" y="1556" width="40" height="30" fill="#c4c4c4"/><rect x="700" y="1560" width="44" height="36" fill="#b8b8b8"/>
<rect x="626" y="1580" width="40" height="28" fill="#7a7a7a"/><rect x="668" y="1590" width="30" height="20" fill="#9c9c9c"/><rect x="746" y="1570" width="20" height="36" fill="#888"/>
</g>
<text x="694" y="1631" text-anchor="middle" style="font-size:17px">Super Concrete</text>
<text x="697" y="1655" text-anchor="middle" style="font-size:16px">일반 콘크리트에 비해</text>
<text x="697" y="1673" text-anchor="middle" style="font-size:16px">무게를 30%줄일 수</text>
<text x="697" y="1691" text-anchor="middle" style="font-size:16px">있고 강도도 최대</text>
<text x="697" y="1709" text-anchor="middle" style="font-size:16px">10배까지 발현 가능</text>

<!-- steel pipes -->
<rect x="806" y="1512" width="141" height="120" fill="#ececec"/>
<g clip-path="url(#cpP)">
<g transform="translate(876,1572) rotate(38)">
<rect x="-110" y="-52" width="220" height="18" fill="url(#gMet)"/><rect x="-110" y="-32" width="220" height="20" fill="url(#gMet)"/><rect x="-110" y="-10" width="220" height="22" fill="url(#gMet)"/><rect x="-110" y="14" width="220" height="18" fill="url(#gMet)"/><rect x="-110" y="34" width="220" height="20" fill="url(#gMet)"/>
</g>
<g fill="#1a1a1a" stroke="#bbb" stroke-width="1.5">
<ellipse cx="880" cy="1598" rx="12" ry="9"/><ellipse cx="903" cy="1582" rx="10" ry="8"/><ellipse cx="856" cy="1612" rx="9" ry="7"/><ellipse cx="925" cy="1588" rx="11" ry="9"/><ellipse cx="838" cy="1598" rx="8" ry="6"/><ellipse cx="867" cy="1626" rx="8" ry="6"/><ellipse cx="940" cy="1572" rx="8" ry="7"/>
</g>
</g>
<text x="871" y="1644" text-anchor="middle" style="font-size:16px">강관 트러스</text>
<text x="877" y="1673" text-anchor="middle" style="font-size:16px">상부의 하중을</text>
<text x="877" y="1691" text-anchor="middle" style="font-size:16px">줄이기위해 트러스를</text>
<text x="877" y="1709" text-anchor="middle" style="font-size:16px">속 빈 강관 사용</text>

<!-- ============ JOINT ============ -->
<text x="601" y="1761" class="t1" textLength="19" lengthAdjust="spacingAndGlyphs">J</text><text x="621" y="1761" class="t2" textLength="55" lengthAdjust="spacingAndGlyphs">OINT</text>
<line x1="688" y1="1754" x2="975" y2="1754" class="hl"/>
<rect x="698" y="1803" width="44" height="70" fill="#e6e6e6" stroke="#999" stroke-width="1"/>
<ellipse cx="720" cy="1873" rx="22" ry="5" fill="#e6e6e6" stroke="#999" stroke-width="1"/>
<g stroke-linecap="butt">
<path d="M712,1838L602,1832M712,1838L612,1852M710,1832L622,1816M712,1830L660,1812M728,1838L838,1842M728,1838L835,1858M730,1832L820,1820M728,1830L790,1814" stroke="#a80808" stroke-width="15"/>
<path d="M712,1838L602,1832M712,1838L612,1852M710,1832L622,1816M712,1830L660,1812M728,1838L838,1842M728,1838L835,1858M730,1832L820,1820M728,1830L790,1814" stroke="#e41818" stroke-width="10"/>
<path d="M712,1842L660,1873M728,1842L775,1872" stroke="#a80808" stroke-width="14"/>
<path d="M712,1842L660,1873M728,1842L775,1872" stroke="#d01010" stroke-width="9"/>
</g>
<rect x="698" y="1798" width="44" height="30" fill="#eeeeee" stroke="#999" stroke-width="1"/>
<ellipse cx="720" cy="1798" rx="22" ry="5" fill="#f6f6f6" stroke="#999" stroke-width="1"/>
<rect x="712" y="1832" width="14" height="14" fill="#888"/>
<text x="848" y="1803" style="font-size:15.5px">Structural concept</text>
<text x="848" y="1821" style="font-size:15.5px">of connection</text>
<text x="848" y="1840" style="font-size:15.5px">between  UHPC</text>
<text x="848" y="1858" style="font-size:15.5px">concrete column</text>
<text x="848" y="1876" style="font-size:15.5px">and H-steel beams</text>
<text x="792" y="1921" text-anchor="middle" style="font-size:15.3px">철골보의 상부플랜지에 비해 하부플랜지를 넓게</text>
<text x="792" y="1940" text-anchor="middle" style="font-size:15.3px">함으로써 장스펜으로 인해 생긴 큰 모멘트 콘크리트</text>
<text x="792" y="1958" text-anchor="middle" style="font-size:15.3px">기둥에 전달</text>
</svg>
</body></html>
